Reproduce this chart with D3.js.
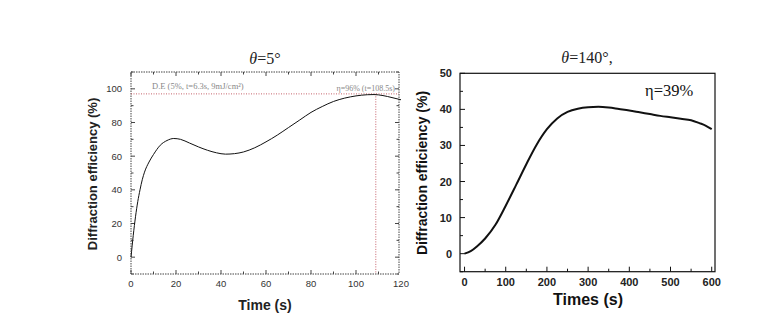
<!DOCTYPE html>
<html><head><meta charset="utf-8">
<script src="https://cdn.jsdelivr.net/npm/d3@7/dist/d3.min.js"></script>
<style>body{margin:0;background:#fff}svg{display:block}</style>
</head><body>
<svg id="c" width="764" height="324"></svg>
<script>
// Left panel (θ=5°)
const leftTime = [0,1,2,3,4,5,6,8,10,13,16,19,22,26,30,34,38,42,46,50,55,60,65,70,75,80,85,90,95,100,105,108,112,116,120];
const leftEff  = [0,13,24,33,40,46,50.5,56.5,61,66.5,69.3,70.5,70,67.8,65.5,63.5,62,61.2,61.5,62.5,65,68.5,72.5,77,81.5,86,89.5,92.5,94.5,95.8,96.5,96.6,96,94.8,93.5];
const leftXTicks = [0,20,40,60,80,100,120];
const leftYTicks = [0,20,40,60,80,100];
const leftMaxEff = 97;
const leftMaxTime = 108.8;
// Right panel (θ=140°)
const rightTime = [0,15,30,50,75,100,125,150,175,200,225,250,275,300,325,350,375,400,425,450,475,500,525,550,570,585,600];
const rightEff  = [0,0.7,2,4.2,8,13.3,19,24.8,30.2,34.5,37.5,39.3,40.2,40.6,40.7,40.5,40.1,39.7,39.2,38.7,38.2,37.8,37.4,37,36.2,35.5,34.5];
const rightXTicks = [0,100,200,300,400,500,600];
const rightYTicks = [0,10,20,30,40,50];

const svg = d3.select("#c");

// ---------- LEFT ----------
{
  const x = d3.scaleLinear().domain([0,120]).range([131,401]);
  const y = d3.scaleLinear().domain([-10,110]).range([274,72]);
  const g = svg.append("g");
  const L=131,R=399,T=72,B=274;
  g.append("rect").attr("x",L).attr("y",T).attr("width",R-L).attr("height",B-T)
    .attr("fill","none").attr("stroke","#444").attr("stroke-width",1).attr("stroke-dasharray","1.5,1");
  const xt = d3.range(0,121,10);
  g.selectAll(".xt").data(xt.filter(v=>x(v)<=R)).join("line")
    .attr("x1",d=>x(d)).attr("x2",d=>x(d)).attr("y1",B).attr("y2",d=>B-(d%20===0?4:2.5)).attr("stroke","#444");
  g.selectAll(".xtt").data(xt.filter(v=>x(v)<=R)).join("line")
    .attr("x1",d=>x(d)).attr("x2",d=>x(d)).attr("y1",T).attr("y2",d=>T+(d%20===0?4:2.5)).attr("stroke","#444");
  const yt = d3.range(-10,111,10);
  g.selectAll(".yt").data(yt).join("line")
    .attr("x1",L).attr("x2",d=>L+(d%20===0?4:2.5)).attr("y1",d=>y(d)).attr("y2",d=>y(d)).attr("stroke","#444");
  g.selectAll(".ytr").data(yt).join("line")
    .attr("x1",R).attr("x2",d=>R-(d%20===0?4:2.5)).attr("y1",d=>y(d)).attr("y2",d=>y(d)).attr("stroke","#444");
  g.selectAll(".xl").data(leftXTicks).join("text")
    .attr("x",d=>x(d)).attr("y",287).attr("text-anchor","middle")
    .attr("font-family","Arial, Liberation Sans, sans-serif").attr("font-size",9.5).attr("fill","#333").text(d=>d);
  g.selectAll(".yl").data(leftYTicks).join("text")
    .attr("x",122).attr("y",d=>y(d)+3.5).attr("text-anchor","end")
    .attr("font-family","Arial, Liberation Sans, sans-serif").attr("font-size",9.5).attr("fill","#333").text(d=>d);
  g.append("line").attr("x1",L).attr("x2",R).attr("y1",y(leftMaxEff)).attr("y2",y(leftMaxEff))
    .attr("stroke","#c0505a").attr("stroke-width",0.9).attr("stroke-dasharray","1,1.5");
  g.append("line").attr("x1",x(leftMaxTime)).attr("x2",x(leftMaxTime)).attr("y1",y(leftMaxEff)).attr("y2",B)
    .attr("stroke","#c0505a").attr("stroke-width",0.9).attr("stroke-dasharray","1,1.5");
  const line = d3.line().x((d,i)=>x(leftTime[i])).y(d=>y(d)).curve(d3.curveMonotoneX);
  g.append("path").attr("d",line(leftEff)).attr("fill","none").attr("stroke","#111").attr("stroke-width",1);
  g.append("text").attr("x",152).attr("y",89).attr("font-family","Times New Roman, Liberation Serif, serif")
    .attr("font-size",8.5).attr("fill","#888").text("D.E (5%, t=6.3s, 9mJ/cm²)");
  g.append("text").attr("x",395).attr("y",91).attr("text-anchor","end").attr("font-family","Times New Roman, Liberation Serif, serif")
    .attr("font-size",8).attr("fill","#888").text("η=96% (t=108.5s)");
  g.append("text").attr("x",265).attr("y",310).attr("text-anchor","middle")
    .attr("font-family","Arial, Liberation Sans, sans-serif").attr("font-weight","bold").attr("font-size",14).attr("fill","#222").text("Time (s)");
  g.append("text").attr("transform","translate(97,174) rotate(-90)").attr("text-anchor","middle")
    .attr("font-family","Arial, Liberation Sans, sans-serif").attr("font-weight","bold").attr("font-size",13).attr("fill","#222").text("Diffraction efficiency (%)");
  const t1 = g.append("text").attr("x",265).attr("y",64).attr("text-anchor","middle")
    .attr("font-family","Times New Roman, Liberation Serif, serif").attr("font-size",16).attr("fill","#222");
  t1.append("tspan").attr("font-style","italic").text("θ");
  t1.append("tspan").text("=5°");
}

// ---------- RIGHT ----------
{
  const x = d3.scaleLinear().domain([-11,608]).range([460,715]);
  const y = d3.scaleLinear().domain([-5,50]).range([271.7,73.3]);
  const g = svg.append("g");
  const L=460,R=715,T=73.3,B=271.7;
  g.append("rect").attr("x",L).attr("y",T).attr("width",R-L).attr("height",B-T)
    .attr("fill","none").attr("stroke","#111").attr("stroke-width",1.2);
  const xt = d3.range(0,601,50);
  g.selectAll(".xt").data(xt).join("line")
    .attr("x1",d=>x(d)).attr("x2",d=>x(d)).attr("y1",B).attr("y2",d=>B-(d%100===0?5:3)).attr("stroke","#111");
  const yt = d3.range(-5,51,5);
  g.selectAll(".yt").data(yt).join("line")
    .attr("x1",L).attr("x2",d=>L+(d%10===0?5:3)).attr("y1",d=>y(d)).attr("y2",d=>y(d)).attr("stroke","#111");
  g.selectAll(".xl").data(rightXTicks).join("text")
    .attr("x",d=>x(d)).attr("y",286).attr("text-anchor","middle")
    .attr("font-family","Arial, Liberation Sans, sans-serif").attr("font-weight","bold").attr("font-size",11).attr("fill","#222").text(d=>d);
  g.selectAll(".yl").data(rightYTicks).join("text")
    .attr("x",452).attr("y",d=>y(d)+4).attr("text-anchor","end")
    .attr("font-family","Arial, Liberation Sans, sans-serif").attr("font-weight","bold").attr("font-size",11).attr("fill","#222").text(d=>d);
  const line = d3.line().x((d,i)=>x(rightTime[i])).y(d=>y(d)).curve(d3.curveMonotoneX);
  g.append("path").attr("d",line(rightEff)).attr("fill","none").attr("stroke","#111").attr("stroke-width",2);
  g.append("text").attr("x",645).attr("y",96).attr("font-family","Times New Roman, Liberation Serif, serif")
    .attr("font-size",16.5).attr("fill","#111").text("η=39%");
  g.append("text").attr("x",588).attr("y",305).attr("text-anchor","middle")
    .attr("font-family","Arial, Liberation Sans, sans-serif").attr("font-weight","bold").attr("font-size",16).attr("fill","#111").text("Times (s)");
  g.append("text").attr("transform","translate(427,173) rotate(-90)").attr("text-anchor","middle")
    .attr("font-family","Arial, Liberation Sans, sans-serif").attr("font-weight","bold").attr("font-size",14).attr("fill","#111").text("Diffraction efficiency (%)");
  const t2 = g.append("text").attr("x",587).attr("y",63).attr("text-anchor","middle")
    .attr("font-family","Times New Roman, Liberation Serif, serif").attr("font-size",16).attr("fill","#222");
  t2.append("tspan").attr("font-style","italic").text("θ");
  t2.append("tspan").text("=140°,");
}
</script>
</body></html>
